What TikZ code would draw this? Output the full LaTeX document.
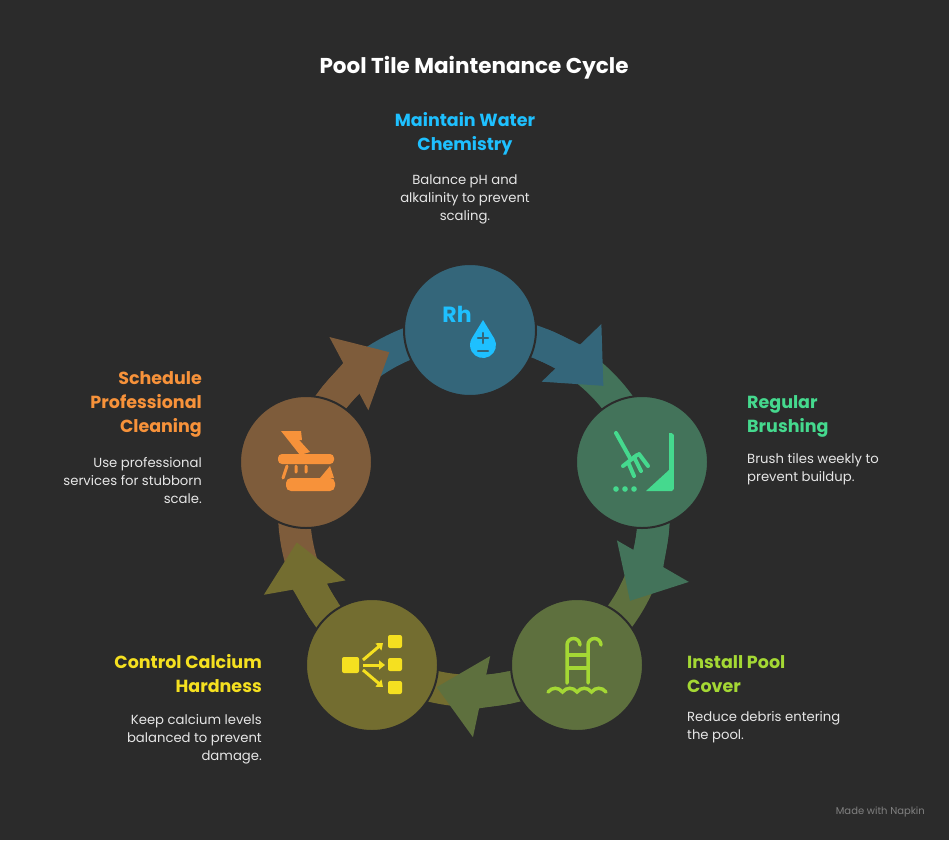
\documentclass[tikz,border=0pt]{standalone}
\usepackage{fontspec}
\setmainfont{Poppins}
\usetikzlibrary{arrows.meta}
\definecolor{bg}{HTML}{2B2B2B}
\definecolor{cA}{HTML}{34667A}\definecolor{iA}{HTML}{1EC0FF}
\definecolor{cB}{HTML}{43735A}\definecolor{iB}{HTML}{45D98E}
\definecolor{cC}{HTML}{5E703E}\definecolor{iC}{HTML}{A4D834}
\definecolor{cD}{HTML}{736D30}\definecolor{iD}{HTML}{F5E020}
\definecolor{cE}{HTML}{7E5C3B}\definecolor{iE}{HTML}{F7923A}
\definecolor{body}{HTML}{E6E6E6}
\tikzset{
 stage/.style={circle,draw=bg,line width=2pt,minimum size=132pt,inner sep=0pt},
 head/.style={font=\bfseries\fontsize{17.5}{24}\selectfont,inner sep=0pt},
 txt/.style={font=\fontsize{13.2}{18}\selectfont,text=body,inner sep=0pt},
 band/.style={line width=32pt},
 tip/.style={-{Triangle[width=80pt 0 0,length=46pt 0 0]},line width=32pt},
}
\begin{document}
\begin{tikzpicture}[x=1pt,y=-1pt]
\fill[bg] (0,0) rectangle (949,840);
\useasboundingbox (0,0) rectangle (949,840);
\coordinate (C) at (474,511);
\def\R{180}
% bands
\foreach \a/\c in {-90/cA,-16/cB,56/cC,124/cD,196/cE}{
  \draw[band,\c] ([shift={(C)}]\a-35:\R) arc[start angle=\a-35,end angle=\a+30,radius=\R];}
\foreach \a/\c in {-90/cA,-16/cB,56/cC,124/cD,196/cE}{
  \draw[tip,\c] ([shift={(C)}]\a+22:\R) arc[start angle=\a+22,end angle=\a+46,radius=\R];}
% circles
\node[stage,fill=cA] (n1) at (470,330) {};
\node[stage,fill=cB] (n2) at (642,462) {};
\node[stage,fill=cC] (n3) at (577,665) {};
\node[stage,fill=cD] (n4) at (372,665) {};
\node[stage,fill=cE] (n5) at (306,462) {};
% icon 1
\node[text=iA,font=\bfseries\fontsize{22}{22}\selectfont,inner sep=0pt] (rh) at (457,314) {Rh};
\coordinate (dc) at (483,345);
\fill[iA] (483,320) -- ([shift={(dc)}]-30:13) arc[start angle=-30,end angle=210,radius=13] -- cycle;
\draw[cA,line width=2.5pt,line cap=round] (483,333)--(483,343) (478,338)--(488,338) (478,351)--(488,351);
% icon 2
\draw[iB,line width=4pt,line cap=round] (616,433)--(630,458);
\draw[iB,line width=4pt,line cap=round,line join=round] (623,466)--(637,455) (628,462)--(634,476) (634,457)--(641,471) (639,454)--(648,466);
\fill[iB] (672,433) -- (672,491) -- (646,491) -- (669,470) -- (669,433) -- cycle;
\draw[iB,line width=3pt,line cap=round] (672,435)--(672,489);
\foreach \x in {616,625,634} \fill[iB] (\x,489) circle (2.8);
% icon 3
\draw[iC,line width=3.5pt,line cap=round] (567,683)--(567,645) arc[start angle=180,end angle=360,radius=6.5] ;
\draw[iC,line width=3.5pt,line cap=round] (588,683)--(588,645) arc[start angle=180,end angle=360,radius=6.5];
\draw[iC,line width=3.5pt] (567,655)--(588,655) (567,668)--(588,668);
\draw[iC,line width=3.5pt,line cap=round] (548,692) \foreach \i in {0,1,2,3} {.. controls +(4,-5) and +(-4,-5) .. ++(14.5,0)};
% icon 4
\fill[iD,rounded corners=2pt] (342,657) rectangle (359,673);
\foreach \y in {635,658,681} \fill[iD,rounded corners=2pt] (388,\y) rectangle (402,\y+13);
\draw[iD,line width=3pt,-{Triangle[width=9pt,length=6pt]}] (363,660)--(383,643);
\draw[iD,line width=3pt,-{Triangle[width=9pt,length=6pt]}] (363,665)--(385,665);
\draw[iD,line width=3pt,-{Triangle[width=9pt,length=6pt]}] (363,670)--(383,687);
% icon 5
\fill[iE] (281,431) -- (291,431) -- (310,452) -- (300,455) -- cycle;
\fill[iE] (286,431) -- (301,431) -- (302,440) -- (292,440) -- cycle;
\fill[iE,rounded corners=4pt] (278,454) rectangle (334,464);
\draw[iE,line width=3pt,line cap=round] (287,466)--(283,478) (296,466)--(296,472) (306,466)--(306,472);
\fill[iE,rounded corners=5pt] (286,478) rectangle (335,491);
\fill[iE] (320,478) -- (330,466) -- (334,478) -- cycle;
% texts
\node[text=white,font=\bfseries\fontsize{21.5}{24}\selectfont,inner sep=0pt] (title) at (474,68) {Pool Tile Maintenance Cycle};
\node[head,text=iA,align=center] (h1) at (465,134) {Maintain Water\\Chemistry};
\node[txt,align=center] (t1) at (465,199) {Balance pH and\\alkalinity to prevent\\scaling.};
\node[head,text=iB,align=left,anchor=west] (h2) at (747,416) {Regular\\Brushing};
\node[txt,align=left,anchor=west] (t2) at (747,469) {Brush tiles weekly to\\prevent buildup.};
\node[head,text=iC,align=left,anchor=west] (h3) at (687,674) {Install Pool\\Cover};
\node[txt,align=left,anchor=west] (t3) at (687,727) {Reduce debris entering\\the pool.};
\node[head,text=iD,align=right,anchor=east] (h4) at (262,674) {Control Calcium\\Hardness};
\node[txt,align=right,anchor=east] (t4) at (262,739) {Keep calcium levels\\balanced to prevent\\damage.};
\node[head,text=iE,align=right,anchor=east] (h5) at (202,404) {Schedule\\Professional\\Cleaning};
\node[txt,align=right,anchor=east] (t5) at (202,481) {Use professional\\services for stubborn\\scale.};
\node[text=gray,font=\fontsize{10}{10}\selectfont,anchor=east,inner sep=0pt] (mw) at (925,812) {Made with Napkin};
\end{tikzpicture}
\end{document}
